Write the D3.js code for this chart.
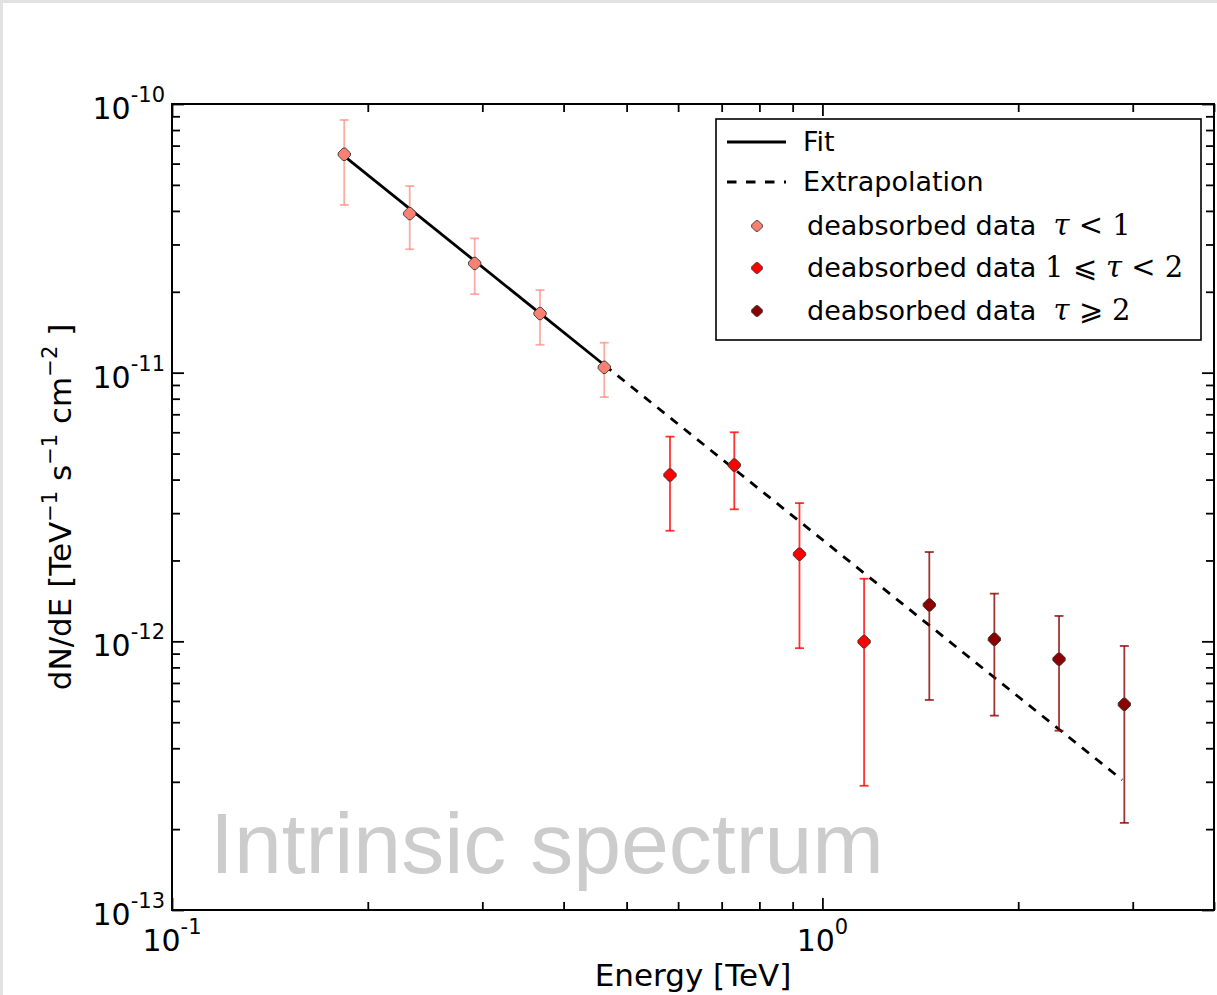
<!DOCTYPE html>
<html>
<head>
<meta charset="utf-8">
<script src="https://cdn.jsdelivr.net/npm/d3@7"></script>
<style>
  body { margin: 0; background: #fff; }
  svg { display: block; }
</style>
</head>
<body>
<div id="chart"></div>
<script>
// deabsorbed spectrum points (TeV, TeV^-1 s^-1 cm^-2)
const energy = [0.184, 0.232, 0.292, 0.368, 0.462, 0.583, 0.732, 0.922, 1.159, 1.460, 1.838, 2.311, 2.912];
const flux   = [6.50e-11, 3.91e-11, 2.55e-11, 1.66e-11, 1.047e-11, 4.16e-12, 4.53e-12, 2.11e-12, 9.97e-13, 1.366e-12, 1.018e-12, 8.58e-13, 5.83e-13];
const fluxHi = [8.72e-11, 4.95e-11, 3.16e-11, 2.03e-11, 1.293e-11, 5.78e-12, 6.00e-12, 3.27e-12, 1.71e-12, 2.15e-12, 1.505e-12, 1.243e-12, 9.61e-13];
const fluxLo = [4.21e-11, 2.88e-11, 1.96e-11, 1.27e-11, 8.11e-12, 2.58e-12, 3.10e-12, 9.43e-13, 2.90e-13, 6.05e-13, 5.29e-13, 4.65e-13, 2.11e-13];
const tauClass = [0, 0, 0, 0, 0, 1, 1, 1, 1, 2, 2, 2, 2];

// fitted power law and its extrapolation (end points)
const fitE = [0.184, 0.462];
const fitF = [6.40e-11, 1.068e-11];
const extrapE = [0.462, 2.89];
const extrapF = [1.068e-11, 3.05e-13];

const xMajor = [0.1, 1];
const xMinor = [0.2, 0.3, 0.4, 0.5, 0.6, 0.7, 0.8, 0.9, 2, 3, 4];
const yMajor = [1e-13, 1e-12, 1e-11, 1e-10];
const yMinor = [2e-13, 3e-13, 4e-13, 5e-13, 6e-13, 7e-13, 8e-13, 9e-13,
                2e-12, 3e-12, 4e-12, 5e-12, 6e-12, 7e-12, 8e-12, 9e-12,
                2e-11, 3e-11, 4e-11, 5e-11, 6e-11, 7e-11, 8e-11, 9e-11];
const xTickLabels = ["-1", "0"];
const yTickLabels = ["-13", "-12", "-11", "-10"];

const classColors = ["#FA8072", "#FF0000", "#8B0000"];
const legendItems = [
  {type: "line", label: "Fit"},
  {type: "dash", label: "Extrapolation"},
  {type: "pt", cls: 0, text: "deabsorbed data  ", math: [["τ", true], [" < 1", false]]},
  {type: "pt", cls: 1, text: "deabsorbed data ", math: [["1 ⩽ ", false], ["τ", true], [" < 2", false]]},
  {type: "pt", cls: 2, text: "deabsorbed data  ", math: [["τ", true], [" ⩾ 2", false]]}
];

const W = 1217, H = 995;
const margin = {top: 104, right: 3, bottom: 85, left: 172};
const sans = "DejaVu Sans, sans-serif";
const serif = "DejaVu Serif, serif";

const svg = d3.select("#chart").append("svg")
  .attr("width", W).attr("height", H);

// light grey frame of the screenshot
svg.append("rect").attr("width", W).attr("height", H).attr("fill", "#e2e2e2");
svg.append("rect").attr("x", 3).attr("y", 3).attr("width", W - 3).attr("height", H - 3).attr("fill", "#fff");

const x = d3.scaleLog().domain([0.1, 4]).range([margin.left, W - margin.right]);
const y = d3.scaleLog().domain([1e-13, 1e-10]).range([H - margin.bottom, margin.top]);
const x0 = x.range()[0], x1 = x.range()[1], y0 = y.range()[0], y1 = y.range()[1];

// watermark
svg.append("text")
  .attr("x", 210).attr("y", 873)
  .attr("font-family", "Liberation Sans, Arial, sans-serif")
  .attr("font-size", 86)
  .attr("fill", "#cccccc")
  .text("Intrinsic spectrum");

// ticks on all four sides, pointing inwards
function tickAxis(axisFn, scale, vals, size, tx, ty) {
  const g = svg.append("g")
    .attr("transform", `translate(${tx},${ty})`)
    .call(axisFn(scale).tickValues(vals).tickSize(-size).tickFormat(""));
  g.select(".domain").remove();
  g.selectAll("line").attr("stroke", "#000").attr("stroke-width", 1.8);
  return g;
}
tickAxis(d3.axisBottom, x, xMajor, 12, 0, y0);
tickAxis(d3.axisBottom, x, xMinor, 8, 0, y0);
tickAxis(d3.axisTop, x, xMajor, -12, 0, y1).selectAll("line").attr("y2", 12);
tickAxis(d3.axisTop, x, xMinor, -8, 0, y1).selectAll("line").attr("y2", 8);
tickAxis(d3.axisLeft, y, yMajor, 12, x0, 0);
tickAxis(d3.axisLeft, y, yMinor, 8, x0, 0);
tickAxis(d3.axisRight, y, yMajor, -12, x1, 0).selectAll("line").attr("x2", -12);
tickAxis(d3.axisRight, y, yMinor, -8, x1, 0).selectAll("line").attr("x2", -8);

svg.append("rect")
  .attr("x", x0).attr("y", y1).attr("width", x1 - x0).attr("height", y0 - y1)
  .attr("fill", "none").attr("stroke", "#000").attr("stroke-width", 2);

// tick labels with superscript exponents
function powLabel(g, px, py, exp, anchor) {
  const t = g.append("text")
    .attr("x", px).attr("y", py)
    .attr("text-anchor", anchor)
    .attr("font-family", sans).attr("fill", "#000");
  t.append("tspan").attr("font-size", 30).text("10");
  t.append("tspan").attr("font-size", 21).attr("dy", -17).text(exp);
}
const labels = svg.append("g");
xMajor.forEach((v, i) => powLabel(labels, x(v), y0 + 41, xTickLabels[i], "middle"));
yMajor.forEach((v, i) => powLabel(labels, x0 - 7, y(v) + 15, yTickLabels[i], "end"));

// axis titles
svg.append("text")
  .attr("x", (x0 + x1) / 2).attr("y", 986)
  .attr("text-anchor", "middle")
  .attr("font-family", sans).attr("font-size", 31)
  .text("Energy [TeV]");

const yt = svg.append("text")
  .attr("transform", `translate(71,${(y0 + y1) / 2}) rotate(-90)`)
  .attr("text-anchor", "middle")
  .attr("font-family", sans).attr("font-size", 31)
  .attr("xml:space", "preserve")
  .style("white-space", "pre");
yt.append("tspan").text("dN/dE [TeV");
yt.append("tspan").attr("font-size", 21).attr("dy", -14).text("−1");
yt.append("tspan").attr("dy", 14).text(" s");
yt.append("tspan").attr("font-size", 21).attr("dy", -14).text("−1");
yt.append("tspan").attr("dy", 14).text(" cm");
yt.append("tspan").attr("font-size", 21).attr("dy", -14).text("−2");
yt.append("tspan").attr("dy", 14).text(" ]");

// fit and extrapolation
const line = d3.line().x(d => x(d[0])).y(d => y(d[1]));
svg.append("path")
  .attr("d", line(fitE.map((e, i) => [e, fitF[i]])))
  .attr("fill", "none").attr("stroke", "#000").attr("stroke-width", 2.8);
svg.append("path")
  .attr("d", line(extrapE.map((e, i) => [e, extrapF[i]])))
  .attr("fill", "none").attr("stroke", "#000").attr("stroke-width", 2.8)
  .attr("stroke-dasharray", "9,8");

// data with error bars
const pts = energy.map((e, i) => ({e, f: flux[i], hi: fluxHi[i], lo: fluxLo[i], c: tauClass[i]}));
// diamond with slightly clipped corners, like a small rasterised marker
const marker = r => {
  const k = r * 0.18;
  return `M${-k},${-r + k}L${k},${-r + k}L${r - k},${-k}L${r - k},${k}L${k},${r - k}L${-k},${r - k}L${-r + k},${k}L${-r + k},${-k}Z`;
};

const eb = svg.append("g").selectAll("g").data(pts).enter().append("g")
  .attr("stroke", d => classColors[d.c])
  .attr("stroke-opacity", d => d.c === 0 ? 0.65 : 0.8)
  .attr("stroke-width", 1.8);
eb.append("line")
  .attr("x1", d => x(d.e)).attr("x2", d => x(d.e))
  .attr("y1", d => y(d.hi)).attr("y2", d => y(d.lo));
eb.append("line")
  .attr("x1", d => x(d.e) - 4.5).attr("x2", d => x(d.e) + 4.5)
  .attr("y1", d => y(d.hi)).attr("y2", d => y(d.hi));
eb.append("line")
  .attr("x1", d => x(d.e) - 4.5).attr("x2", d => x(d.e) + 4.5)
  .attr("y1", d => y(d.lo)).attr("y2", d => y(d.lo));

svg.append("g").selectAll("path").data(pts).enter().append("path")
  .attr("d", marker(7.5))
  .attr("transform", d => `translate(${x(d.e)},${y(d.f)})`)
  .attr("fill", d => classColors[d.c])
  .attr("stroke", "#333").attr("stroke-width", 0.9)
  .attr("stroke-linejoin", "round");

// legend
const lg = svg.append("g");
lg.append("rect")
  .attr("x", 716).attr("y", 119).attr("width", 485).attr("height", 221)
  .attr("fill", "#fff").attr("stroke", "#000").attr("stroke-width", 1.6);
const rowY = [142, 182, 226, 268, 311];
legendItems.forEach((it, i) => {
  const cy = rowY[i];
  if (it.type === "line" || it.type === "dash") {
    lg.append("line")
      .attr("x1", 727).attr("x2", 786).attr("y1", cy).attr("y2", cy)
      .attr("stroke", "#000").attr("stroke-width", 2.8)
      .attr("stroke-dasharray", it.type === "dash" ? "9.5,9.5" : null);
    lg.append("text")
      .attr("x", 803).attr("y", cy + 9)
      .attr("font-family", sans).attr("font-size", 27)
      .text(it.label);
  } else {
    lg.append("path")
      .attr("d", marker(6.5))
      .attr("transform", `translate(757,${cy})`)
      .attr("fill", classColors[it.cls])
      .attr("stroke", "#333").attr("stroke-width", 0.9)
      .attr("stroke-linejoin", "round");
    const t = lg.append("text")
      .attr("x", 807).attr("y", cy + 9)
      .attr("font-family", sans).attr("font-size", 27)
      .attr("xml:space", "preserve")
      .style("white-space", "pre");
    t.append("tspan").text(it.text);
    it.math.forEach(m => {
      t.append("tspan")
        .attr("font-family", serif)
        .attr("font-size", 29)
        .attr("font-style", m[1] ? "italic" : "normal")
        .text(m[0]);
    });
  }
});
</script>
</body>
</html>
